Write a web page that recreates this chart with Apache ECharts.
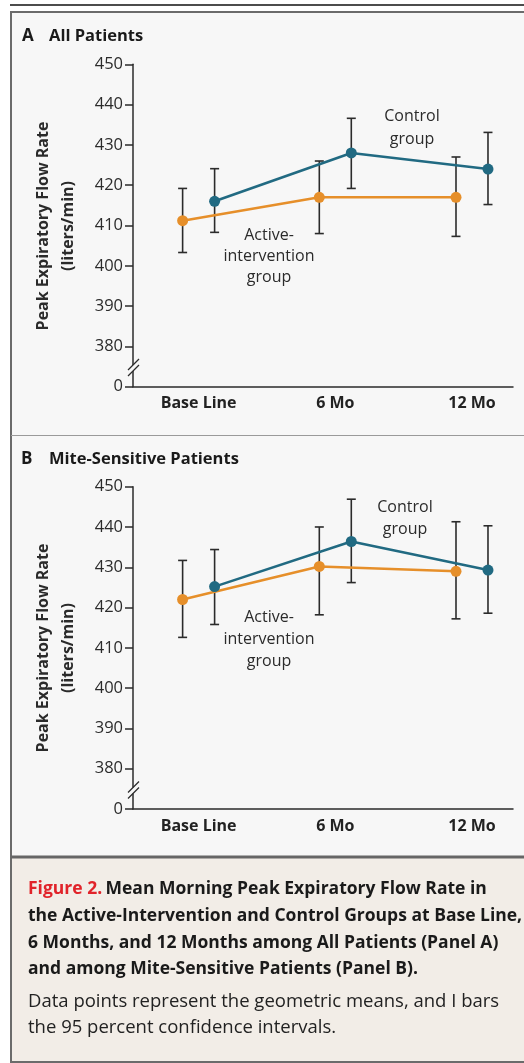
<!DOCTYPE html>
<html><head><meta charset="utf-8">
<script src="https://cdn.jsdelivr.net/npm/echarts@6/dist/echarts.min.js"></script>
<style>html,body{margin:0;padding:0;background:#fff;}#c{width:524px;height:1063px;}</style>
</head><body><div id="c"></div>
<script>
const categories = ['Base Line', '6 Mo', '12 Mo'];
const breakLabelValue = 370; // shown as "0" below the axis break

// Panel A – All Patients
const activeA      = [411.2, 417.0, 417.0];
const activeALow   = [403.3, 408.0, 407.3];
const activeAHigh  = [419.2, 426.0, 427.0];
const controlA     = [416.0, 428.0, 424.0];
const controlALow  = [408.3, 419.2, 415.2];
const controlAHigh = [424.1, 436.6, 433.1];

// Panel B – Mite-Sensitive Patients
const activeB      = [422.0, 430.2, 429.0];
const activeBLow   = [412.6, 418.2, 417.2];
const activeBHigh  = [431.7, 440.0, 441.3];
const controlB     = [425.2, 436.4, 429.3];
const controlBLow  = [415.8, 426.2, 418.6];
const controlBHigh = [434.4, 446.9, 440.3];

const ORANGE = '#E68F2A', BLUE = '#216A82', INK = '#2b2b2b';
const FONT = '"Open Sans", Lato, sans-serif';
const DODGE = 0.117;

const chart = echarts.init(document.getElementById('c'), null, {renderer: 'canvas'});

const grids = [
  {left: 133, right: 11, top: 64.3, height: 322.4},
  {left: 133, right: 11, top: 486.7, height: 322.3}
];

function xAxisFor(i) {
  return {
    type: 'value', gridIndex: i, min: -0.48, max: 2.3,
    splitLine: {show: false},
    axisLine: {show: true, onZero: false, lineStyle: {color: INK, width: 1.5}},
    axisTick: {show: false},
    axisLabel: {
      show: true, customValues: [0, 1, 2], margin: 9,
      formatter: v => categories[Math.round(v)] || '',
      color: '#222', fontFamily: FONT, fontWeight: 'bold', fontSize: 16
    }
  };
}
function yAxisFor(i) {
  return {
    type: 'value', gridIndex: i, min: 370, max: 450, interval: 10,
    splitLine: {show: false},
    axisLine: {show: true, onZero: false, lineStyle: {color: INK, width: 1.5}},
    axisTick: {show: true, length: 8, lineStyle: {color: INK, width: 1.5}},
    axisLabel: {
      margin: 10, color: INK, fontFamily: FONT, fontSize: 16.5,
      formatter: v => (v === breakLabelValue ? '0' : String(v))
    }
  };
}

function errSeries(i, offset, lo, hi) {
  return {
    type: 'custom', xAxisIndex: i, yAxisIndex: i, z: 2,
    encode: {x: 0, y: [1, 2]},
    data: lo.map((l, k) => [k + offset, l, hi[k]]),
    renderItem: (params, api) => {
      const x = api.value(0);
      const a = api.coord([x, api.value(1)]);
      const b = api.coord([x, api.value(2)]);
      const w = 4.5;
      const st = {stroke: INK, lineWidth: 1.6};
      return {type: 'group', children: [
        {type: 'line', shape: {x1: a[0], y1: a[1], x2: b[0], y2: b[1]}, style: st},
        {type: 'line', shape: {x1: a[0] - w, y1: a[1], x2: a[0] + w, y2: a[1]}, style: st},
        {type: 'line', shape: {x1: b[0] - w, y1: b[1], x2: b[0] + w, y2: b[1]}, style: st}
      ]};
    }
  };
}
function lineSeries(i, offset, vals, color) {
  return {
    type: 'line', xAxisIndex: i, yAxisIndex: i, z: 3,
    data: vals.map((v, k) => [k + offset, v]),
    symbol: 'circle', symbolSize: 11, showSymbol: true,
    lineStyle: {color: color, width: 2.6},
    itemStyle: {color: color},
    animation: false
  };
}

function breakMarks(yb) {
  return [
    {type: 'rect', shape: {x: 130, y: yb - 3, width: 7, height: 6}, style: {fill: '#f7f7f7'}, z: 20},
    {type: 'line', shape: {x1: 128, y1: yb + 2, x2: 139, y2: yb - 9}, style: {stroke: INK, lineWidth: 1.3}, z: 21},
    {type: 'line', shape: {x1: 128, y1: yb + 8, x2: 139, y2: yb - 3}, style: {stroke: INK, lineWidth: 1.3}, z: 21}
  ];
}

const CAP_B = 'bold 17.5px ' + FONT;
const CAP_N = '18.5px ' + FONT;

const graphics = [
  // frame & backgrounds
  {type: 'line', shape: {x1: 10, y1: 5, x2: 524, y2: 5}, style: {stroke: '#111', lineWidth: 1.6}, z: -5},
  {type: 'rect', shape: {x: 11, y: 12, width: 515, height: 845}, style: {fill: '#f7f7f7', stroke: '#6b6b6b', lineWidth: 2}, z: -10},
  {type: 'rect', shape: {x: 11, y: 857, width: 515, height: 205}, style: {fill: '#f2ede7', stroke: '#6b6b6b', lineWidth: 2}, z: -10},
  {type: 'line', shape: {x1: 11, y1: 435.5, x2: 524, y2: 435.5}, style: {stroke: '#9a9a9a', lineWidth: 1.2}, z: -5},
  {type: 'line', shape: {x1: 11, y1: 857, x2: 524, y2: 857}, style: {stroke: '#666', lineWidth: 3}, z: -5},

  // panel titles
  {type: 'text', x: 22, y: 36, style: {text: 'A', font: 'bold 17px ' + FONT, fill: '#1a1a1a', textVerticalAlign: 'middle'}},
  {type: 'text', x: 49, y: 36, style: {text: 'All Patients', font: 'bold 16.5px ' + FONT, fill: '#1a1a1a', textVerticalAlign: 'middle'}},
  {type: 'text', x: 21, y: 459, style: {text: 'B', font: 'bold 17px ' + FONT, fill: '#1a1a1a', textVerticalAlign: 'middle'}},
  {type: 'text', x: 49, y: 459, style: {text: 'Mite-Sensitive Patients', font: 'bold 16.5px ' + FONT, fill: '#1a1a1a', textVerticalAlign: 'middle'}},

  // y-axis names
  {type: 'text', x: 55.5, y: 226, rotation: Math.PI / 2, style: {text: 'Peak Expiratory Flow Rate\n(liters/min)', font: 'bold 16px ' + FONT, lineHeight: 25, fill: INK, textAlign: 'center', textVerticalAlign: 'middle'}},
  {type: 'text', x: 55.5, y: 648, rotation: Math.PI / 2, style: {text: 'Peak Expiratory Flow Rate\n(liters/min)', font: 'bold 16px ' + FONT, lineHeight: 25, fill: INK, textAlign: 'center', textVerticalAlign: 'middle'}},

  // annotations
  {type: 'text', x: 412, y: 128, style: {text: 'Control\ngroup', font: '16px ' + FONT, lineHeight: 23, fill: INK, textAlign: 'center', textVerticalAlign: 'middle'}},
  {type: 'text', x: 269, y: 256, style: {text: 'Active-\nintervention\ngroup', font: '16px ' + FONT, lineHeight: 21, fill: INK, textAlign: 'center', textVerticalAlign: 'middle'}},
  {type: 'text', x: 405, y: 518, style: {text: 'Control\ngroup', font: '16px ' + FONT, lineHeight: 22, fill: INK, textAlign: 'center', textVerticalAlign: 'middle'}},
  {type: 'text', x: 269, y: 639.5, style: {text: 'Active-\nintervention\ngroup', font: '16px ' + FONT, lineHeight: 22, fill: INK, textAlign: 'center', textVerticalAlign: 'middle'}},

  // caption
  {type: 'text', x: 28, y: 889, style: {
    text: '{r|Figure 2.} {b|Mean Morning Peak Expiratory Flow Rate in}',
    textVerticalAlign: 'middle',
    rich: {r: {fill: '#e1232a', font: CAP_B}, b: {fill: '#1a1a1a', font: CAP_B}}
  }},
  {type: 'text', x: 28, y: 916, style: {text: 'the Active-Intervention and Control Groups at Base Line,', font: CAP_B, fill: '#1a1a1a', textVerticalAlign: 'middle'}},
  {type: 'text', x: 28, y: 943, style: {text: '6 Months, and 12 Months among All Patients (Panel A)', font: CAP_B, fill: '#1a1a1a', textVerticalAlign: 'middle'}},
  {type: 'text', x: 28, y: 969, style: {text: 'and among Mite-Sensitive Patients (Panel B).', font: CAP_B, fill: '#1a1a1a', textVerticalAlign: 'middle'}},
  {type: 'text', x: 28, y: 1002, style: {text: 'Data points represent the geometric means, and I bars', font: CAP_N, fill: '#222', textVerticalAlign: 'middle'}},
  {type: 'text', x: 28, y: 1028, style: {text: 'the 95 percent confidence intervals.', font: CAP_N, fill: '#222', textVerticalAlign: 'middle'}}
].concat(breakMarks(368), breakMarks(790.5));

chart.setOption({
  animation: false,
  backgroundColor: '#ffffff',
  grid: grids,
  xAxis: [xAxisFor(0), xAxisFor(1)],
  yAxis: [yAxisFor(0), yAxisFor(1)],
  series: [
    errSeries(0, -DODGE, activeALow, activeAHigh),
    errSeries(0, DODGE, controlALow, controlAHigh),
    lineSeries(0, -DODGE, activeA, ORANGE),
    lineSeries(0, DODGE, controlA, BLUE),
    errSeries(1, -DODGE, activeBLow, activeBHigh),
    errSeries(1, DODGE, controlBLow, controlBHigh),
    lineSeries(1, -DODGE, activeB, ORANGE),
    lineSeries(1, DODGE, controlB, BLUE)
  ],
  graphic: graphics
});
</script></body></html>
